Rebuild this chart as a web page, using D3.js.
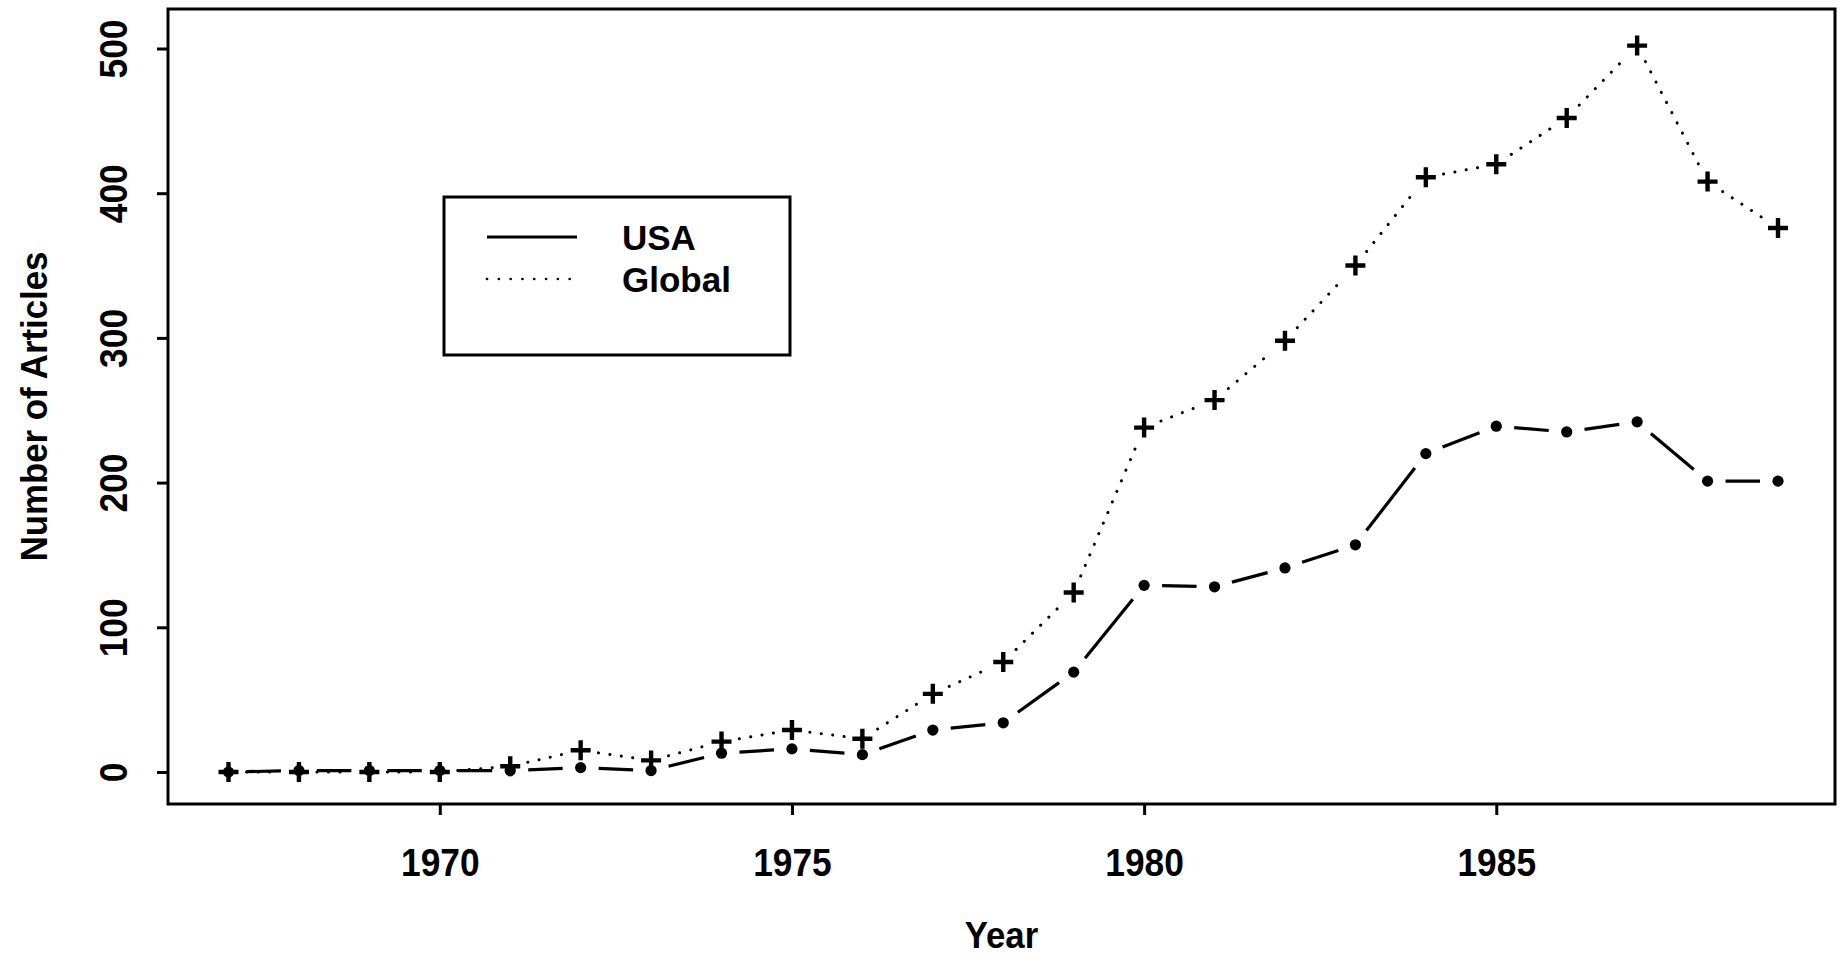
<!DOCTYPE html>
<html>
<head>
<meta charset="utf-8">
<script src="https://cdn.jsdelivr.net/npm/d3@7"></script>
<style>
  html, body { margin: 0; padding: 0; background: #fff; }
  svg { display: block; }
  text { font-family: "Liberation Sans", Arial, Helvetica, sans-serif; font-weight: bold; fill: #000; }
</style>
</head>
<body>
<div id="root"></div>
<script>
const years = [1967, 1968, 1969, 1970, 1971, 1972, 1973, 1974, 1975, 1976, 1977, 1978,
  1979, 1980, 1981, 1982, 1983, 1984, 1985, 1986, 1987, 1988, 1989]
const usa = [0, 1, 1, 1, 1, 3, 1, 13, 16, 12, 29, 34, 69, 129, 128, 141, 157, 220, 239, 235, 242, 201, 201]
const global = [0, 0, 0, 0, 4, 15, 8, 21, 29, 23, 54, 76, 124, 238, 257, 298, 350, 411, 420, 452, 502, 408, 376]
const xTicks = [1970, 1975, 1980, 1985]
const yTicks = [0, 100, 200, 300, 400, 500]
const seriesNames = ['USA', 'Global']

const width = 1841
const height = 962
const box = { left: 168, top: 9, right: 1835, bottom: 804 }
const gap = 18

const x = d3.scaleLinear().domain([1967, 1989]).range([228.5, 1778])
const y = d3.scaleLinear().domain([0, 500]).range([772, 48.5])

const svg = d3.select('#root').append('svg')
  .attr('width', width)
  .attr('height', height)

// frame round the plot
svg.append('rect')
  .attr('x', box.left)
  .attr('y', box.top)
  .attr('width', box.right - box.left)
  .attr('height', box.bottom - box.top)
  .attr('fill', 'none')
  .attr('stroke', '#000')
  .attr('stroke-width', 3)

// x axis
const xAxis = svg.append('g')
  .attr('transform', 'translate(0,' + box.bottom + ')')
  .call(d3.axisBottom(x).tickValues(xTicks).tickFormat(d3.format('d')).tickSize(11))
xAxis.select('.domain').remove()
xAxis.selectAll('line').attr('stroke', '#000').attr('stroke-width', 3)
xAxis.selectAll('text')
  .attr('dy', null).attr('y', 72)
  .attr('font-size', 38)
  .attr('transform', 'scale(0.93,1)')
  .style('font-family', '"Liberation Sans", Arial, sans-serif').style('font-weight', 'bold')

// y axis, labels turned like in R
const yAxis = svg.append('g')
  .attr('transform', 'translate(' + box.left + ',0)')
  .call(d3.axisLeft(y).tickValues(yTicks).tickSize(11))
yAxis.select('.domain').remove()
yAxis.selectAll('line').attr('stroke', '#000').attr('stroke-width', 3)
yAxis.selectAll('text')
  .attr('x', null).attr('dy', null)
  .attr('text-anchor', 'middle')
  .attr('transform', 'translate(-41,0) rotate(-90) scale(0.93,1)')
  .attr('font-size', 38)
  .style('font-family', '"Liberation Sans", Arial, sans-serif').style('font-weight', 'bold')

svg.append('text')
  .attr('transform', 'translate(' + (box.left + box.right) / 2 + ',948) scale(0.94,1)')
  .attr('text-anchor', 'middle')
  .attr('font-size', 37)
  .text('Year')

svg.append('text')
  .attr('transform', 'translate(47,' + (box.top + box.bottom) / 2 + ') rotate(-90) scale(0.94,1)')
  .attr('text-anchor', 'middle')
  .attr('font-size', 37)
  .text('Number of Articles')

// lines with gaps round each point (type = "b")
const segments = (vals) => d3.pairs(years.map((yr, i) => [x(yr), y(vals[i])])).map(([a, b]) => {
  const dx = b[0] - a[0], dy = b[1] - a[1]
  const len = Math.hypot(dx, dy)
  if (len <= gap * 2) return null
  const ux = dx / len, uy = dy / len
  return [a[0] + ux * gap, a[1] + uy * gap, b[0] - ux * gap, b[1] - uy * gap]
}).filter(s => s)

svg.append('g').selectAll('line')
  .data(segments(usa))
  .enter()
  .append('line')
  .attr('x1', d => d[0]).attr('y1', d => d[1])
  .attr('x2', d => d[2]).attr('y2', d => d[3])
  .attr('stroke', '#000')
  .attr('stroke-width', 3.2)

svg.append('g').selectAll('line')
  .data(segments(global))
  .enter()
  .append('line')
  .attr('x1', d => d[0]).attr('y1', d => d[1])
  .attr('x2', d => d[2]).attr('y2', d => d[3])
  .attr('stroke', '#000')
  .attr('stroke-width', 3)
  .attr('stroke-linecap', 'round')
  .attr('stroke-dasharray', '0.1 11.4')

// points
svg.append('g').selectAll('circle')
  .data(usa)
  .enter()
  .append('circle')
  .attr('cx', (d, i) => x(years[i]))
  .attr('cy', d => y(d))
  .attr('r', 5.6)
  .attr('fill', '#000')

svg.append('g').selectAll('path')
  .data(global)
  .enter()
  .append('path')
  .attr('transform', (d, i) => 'translate(' + x(years[i]) + ',' + y(d) + ')')
  .attr('d', 'M-10,0H10M0,-10V10')
  .attr('stroke', '#000')
  .attr('stroke-width', 4.4)

// legend
const legend = svg.append('g')
legend.append('rect')
  .attr('x', 444).attr('y', 197)
  .attr('width', 346).attr('height', 158)
  .attr('fill', '#fff')
  .attr('stroke', '#000')
  .attr('stroke-width', 3)

const legendRows = legend.selectAll('.row')
  .data(seriesNames)
  .enter()
  .append('g')
  .attr('class', 'row')
  .attr('transform', (d, i) => 'translate(0,' + (237 + i * 42) + ')')

legendRows.append('line')
  .attr('x1', 487).attr('x2', d => d === 'USA' ? 577 : 571)
  .attr('y1', 0).attr('y2', 0)
  .attr('stroke', '#000')
  .attr('stroke-width', d => d === 'USA' ? 3 : 2.6)
  .attr('stroke-linecap', d => d === 'USA' ? 'butt' : 'round')
  .attr('stroke-dasharray', d => d === 'USA' ? null : '0.1 11.7')

legendRows.append('text')
  .attr('x', 622)
  .attr('y', 12.5)
  .attr('font-size', 35)
  .text(d => d)
</script>
</body>
</html>
